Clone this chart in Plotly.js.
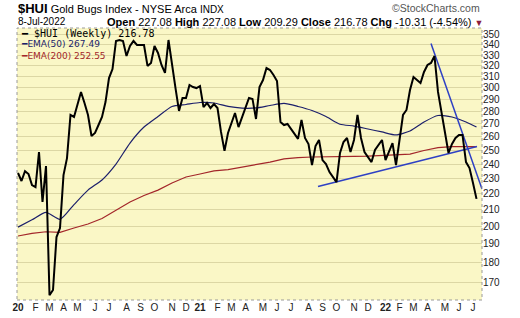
<!DOCTYPE html>
<html><head><meta charset="utf-8">
<script src="https://cdn.plot.ly/plotly-3.0.1.min.js"></script>
<style>html,body{margin:0;padding:0;background:#fff;}#chart{width:520px;height:318px;}</style>
</head><body><div id="chart"></div>
<script>
// ---- data (weekly closes from 3-Jan-2020 to 8-Jul-2022) ----
const firstWeekUTC = [2020, 0, 3];
const price = [233.8, 228.4, 235.1, 233.1, 225.7, 224.4, 248.6, 214.8, 238.6, 163.6,
  166.1, 193.9, 199.0, 232.4, 244.2, 277.0, 275.4, 286.0, 296.3, 286.9,
  277.0, 260.5, 262.8, 269.0, 275.4, 287.7, 308.6, 316.8, 343.9, 344.9,
  343.9, 329.1, 338.9, 343.9, 339.9, 339.9, 339.9, 319.7, 322.5, 338.9,
  332.1, 320.6, 313.2, 344.9, 323.4, 299.7, 280.3, 291.1, 291.1, 302.4,
  300.6, 299.7, 301.5, 283.5, 286.9, 282.7, 286.0, 282.7, 263.6, 249.4,
  262.8, 270.6, 278.6, 267.4, 275.4, 283.5, 291.1, 290.3, 273.8, 300.6,
  306.8, 317.7, 315.9, 311.4, 305.9, 271.4, 269.0, 269.8, 265.9, 262.1,
  258.3, 273.0, 259.0, 254.5, 239.3, 253.0, 257.5, 242.8, 240.0, 234.4,
  231.1, 227.7, 247.9, 256.0, 259.0, 248.6, 257.5, 277.0, 259.0, 248.6,
  244.9, 241.4, 250.1, 253.7, 257.5, 242.8, 248.6, 255.2, 239.3, 257.5,
  277.0, 281.1, 298.0, 309.5, 306.8, 304.2, 314.1, 320.6, 322.5, 329.1,
  296.3, 278.6, 261.3, 247.9, 254.5, 259.0, 261.3, 261.3, 241.4, 237.2, 227.0, 216.78];
const emaWeeks = [0,4,8,12,16,20,24,28,32,36,40,44,48,52,56,60,64,68,72,76,80,84,88,92,96,100,104,108,112,116,120,124,128,131];
const ema50 = [199.6, 203.9, 208.4, 204.2, 213.2, 222.4, 229.1, 240.0, 255.2, 267.4, 275.8, 284.0, 285.6, 287.3, 286.9, 284.0, 282.6, 282.8, 284.8, 286.5, 284.0, 280.7, 275.8, 269.6, 268.2, 265.9, 263.6, 261.3, 264.3, 271.4, 276.6, 275.4, 271.4, 267.49];
const ema200 = [194.5, 196.0, 196.9, 196.6, 199.1, 201.4, 204.7, 209.8, 214.8, 218.9, 222.4, 227.1, 231.1, 233.1, 235.2, 236.1, 237.9, 239.3, 241.4, 243.6, 244.6, 245.0, 245.0, 245.2, 245.4, 245.6, 246.0, 246.4, 247.1, 249.7, 251.8, 252.5, 252.5, 252.55];
const supportDates = ['2021-08-25', '2022-07-09'];
const supportValues = [224.7, 252.6];
const resistDates = ['2022-04-08', '2022-07-19'];
const resistValues = [341.4, 223.1];
const monthLabels = ['<b>20</b>','F','M','A','M','J','J','A','S','O','N','D',
  '<b>21</b>','F','M','A','M','J','J','A','S','O','N','D',
  '<b>22</b>','F','M','A','M','J','J'];
const yTicks = [170,180,190,200,210,220,230,240,250,260,270,280,290,300,310,320,330,340,350];
const symbol = '$HUI';
const indexName = 'Gold Bugs Index - NYSE Arca';
const exchange = 'INDX';
const barDate = '8-Jul-2022';
const openV = 227.08, highV = 227.08, lowV = 209.29, closeV = 216.78, chgV = -10.31, chgPct = -4.54;

// ---- helpers ----
function iso(d){ return d.toISOString().slice(0,10); }
function weekDate(i){ return iso(new Date(Date.UTC(firstWeekUTC[0], firstWeekUTC[1], firstWeekUTC[2] + 7*i))); }
const priceDates = price.map((_, i) => weekDate(i));
const emaDates = emaWeeks.map(weekDate);
function firstFriday(y, m){
  const d = new Date(Date.UTC(y, m, 1));
  const off = (5 - d.getUTCDay() + 7) % 7;
  return iso(new Date(Date.UTC(y, m, 1 + off)));
}
const monthTicks = monthLabels.map((_, k) => firstFriday(2020 + Math.floor(k/12), k % 12));
const quarterTicks = monthTicks.filter((_, k) => k % 3 === 0);
const xRange = ['2020-01-01', '2022-07-19'];
const yRange = [Math.log10(161.3), Math.log10(357.2)];

const F = 'Liberation Sans, Arial, sans-serif';
const traces = [
  {x: emaDates, y: ema200, type:'scatter', mode:'lines', xaxis:'x2', yaxis:'y', line:{color:'#a3262a', width:1.2}},
  {x: emaDates, y: ema50, type:'scatter', mode:'lines', xaxis:'x2', yaxis:'y', line:{color:'#1c1f6b', width:1.2, shape:'spline', smoothing:0.6}},
  {x: supportDates, y: supportValues, type:'scatter', mode:'lines', xaxis:'x2', yaxis:'y', line:{color:'#2e40c4', width:1.5}},
  {x: resistDates, y: resistValues, type:'scatter', mode:'lines', xaxis:'x2', yaxis:'y', line:{color:'#2e40c4', width:1.5}},
  {x: priceDates, y: price, type:'scatter', mode:'lines', xaxis:'x2', yaxis:'y', line:{color:'#000000', width:2}}
];

const last = a => a[a.length-1].toFixed(2);
const annotations = [
  {xref:'paper', yref:'paper', x:-0.002, y:1.070, xanchor:'left', yanchor:'middle', showarrow:false,
   text:'<span style="font-size:13px"><b>'+symbol+'</b></span> '+indexName+' <span style="font-size:10px">'+exchange+'</span>',
   font:{family:F, size:11, color:'#000'}},
  {xref:'paper', yref:'paper', x:-0.002, y:1.0235, xanchor:'left', yanchor:'middle', showarrow:false,
   text:barDate, font:{family:F, size:10, color:'#000'}},
  {xref:'paper', yref:'paper', x:1.0065, y:1.0235, xanchor:'right', yanchor:'middle', showarrow:false,
   text:'<b>Open</b> '+openV.toFixed(2)+' <b>High</b> '+highV.toFixed(2)+' <b>Low</b> '+lowV.toFixed(2)+' <b>Close</b> '+closeV.toFixed(2)+' <b>Chg</b> '+chgV.toFixed(2)+' ('+chgPct.toFixed(2)+'%) <span style="color:#8c1c3c;font-size:9px">▼</span>',
   font:{family:F, size:11, color:'#000'}},
  {xref:'paper', yref:'paper', x:1.0, y:1.0735, xanchor:'right', yanchor:'middle', showarrow:false,
   text:'©StockCharts.com', font:{family:F, size:10.5, color:'#555'}},
  {xref:'paper', yref:'paper', x:0.004, y:0.978, xanchor:'left', yanchor:'middle', showarrow:false,
   text:'<span style="font-family:DejaVu Sans">━</span> '+symbol+' (Weekly) '+last(price), font:{family:'DejaVu Sans Mono', size:10, color:'#000'}},
  {xref:'paper', yref:'paper', x:0.004, y:0.940, xanchor:'left', yanchor:'middle', showarrow:false,
   text:'━EMA(50) '+last(ema50), font:{family:'DejaVu Sans', size:9, color:'#1c1f6b'}},
  {xref:'paper', yref:'paper', x:0.004, y:0.897, xanchor:'left', yanchor:'middle', showarrow:false,
   text:'━EMA(200) '+last(ema200), font:{family:'DejaVu Sans', size:9, color:'#a3262a'}}
];

const layout = {
  width:520, height:318,
  margin:{l:17, r:38, t:28, b:18, pad:0},
  paper_bgcolor:'#ffffff', plot_bgcolor:'#faf7c6',
  showlegend:false,
  xaxis:{type:'date', range:xRange, tickmode:'array', tickvals:quarterTicks, showticklabels:false,
         showgrid:true, gridcolor:'#bdc19c', gridwidth:1, ticks:'', zeroline:false, showline:false, automargin:false},
  xaxis2:{type:'date', range:xRange, overlaying:'x', anchor:'y', side:'bottom', tickmode:'array',
          tickvals:monthTicks, ticktext:monthLabels, showgrid:false, ticks:'', zeroline:false, showline:false,
          tickfont:{family:F, size:10, color:'#222'}, automargin:false},
  yaxis:{type:'log', side:'right', range:yRange, tickmode:'array', tickvals:yTicks, ticktext:yTicks.map(String),
         showgrid:true, gridcolor:'#dcd7a4', gridwidth:1, ticks:'', zeroline:false, showline:false,
         tickfont:{family:F, size:10, color:'#222'}, automargin:false},
  shapes:[{type:'rect', xref:'paper', yref:'paper', x0:0, x1:1, y0:0, y1:1, line:{color:'#9a9a9a', width:1, dash:'dot'}, layer:'above'}],
  annotations:annotations,
  hovermode:false
};
Plotly.newPlot('chart', traces, layout, {staticPlot:true, displayModeBar:false});
</script>
</body></html>
